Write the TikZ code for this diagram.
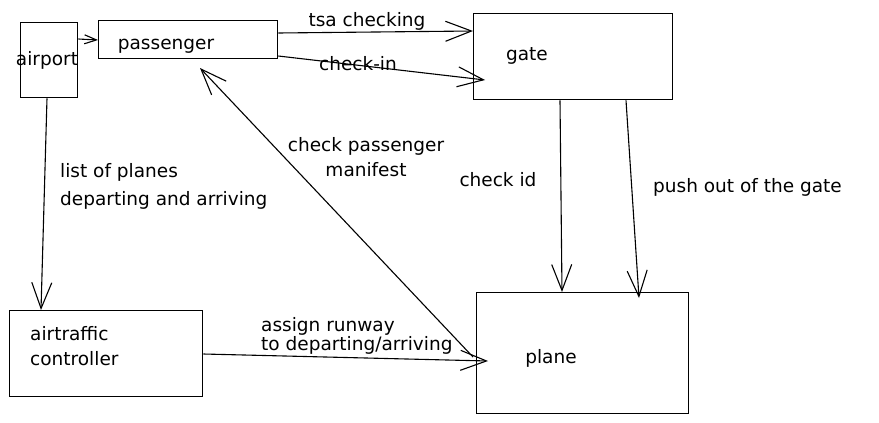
\documentclass[tikz,border=0pt]{standalone}
\usepackage{fontspec}
\setmainfont{DejaVu Sans}
\usetikzlibrary{arrows.meta}
\tikzset{
  box/.style={draw, line width=1.3pt, inner sep=0pt, anchor=north west},
  txt/.style={inner sep=0pt, font=\fontsize{18.5}{26}\selectfont},
  arr/.style={line width=1.1pt, -{Straight Barb[length=26pt,width=20pt,line width=1.1pt]}},
  sarr/.style={line width=1.1pt, -{Straight Barb[length=12pt,width=9pt,line width=1.1pt]}},
}
\begin{document}
\begin{tikzpicture}[x=1pt,y=-1pt]
\useasboundingbox (0,0) rectangle (879,423);
% boxes
\node[box, minimum width=57pt, minimum height=75pt] (airport) at (20,22) {};
\node[box, minimum width=179pt, minimum height=38pt] (passenger) at (98,20) {};
\node[box, minimum width=199pt, minimum height=86pt] (gate) at (473,13) {};
\node[box, minimum width=193pt, minimum height=86pt] (atc) at (9,310) {};
\node[box, minimum width=212pt, minimum height=121pt] (plane) at (476,292) {};
% box texts
\node[txt] (tairport) at (47,60) {airport};
\node[txt] (tpassenger) at (166,46) {passenger};
\node[txt] (tgate) at (527,56) {gate};
\node[txt, anchor=west, align=left, font=\fontsize{18.5}{25}\selectfont] (tatc) at (30,346) {airtraffic\\controller};
\node[txt] (tplane) at (551,358) {plane};
% connectors
\draw[sarr] (airport.east |- 0,39) -- (passenger.west |- 0,40);
\draw[arr] (passenger.east |- 0,33) -- (gate.west |- 0,31);
\draw[arr] (passenger.east |- 0,56) -- ([xshift=12pt]gate.west |- 0,80);
\draw[arr] (airport.south -| 47,0) -- (atc.north -| 41,0);
\draw[arr] (atc.east |- 0,354) -- ([xshift=12pt]plane.west |- 0,361);
\coordinate (pin) at (200,68);
\draw[arr] ([xshift=-3pt]plane.west |- 0,357) -- (pin);
\draw[arr] (gate.south -| 560,0) -- (plane.north -| 562,0);
\draw[arr] (gate.south -| 626,0) -- ([yshift=-6pt]plane.north -| 639,0);
% labels
\node[txt] (ltsa) at (367,21) {tsa checking};
\node[txt] (lcheckin) at (358,64) {check-in};
\node[txt, anchor=west, align=left, font=\fontsize{18.5}{28}\selectfont] (llist) at (60,186) {list of planes\\departing and arriving};
\node[txt, align=center, font=\fontsize{18.5}{25}\selectfont] (lmanifest) at (366,157) {check passenger\\manifest};
\node[txt] (lcheckid) at (498,180) {check id};
\node[txt, anchor=west] (lpush) at (653,187) {push out of the gate};
\node[txt, anchor=west, align=left, font=\fontsize{18.5}{19}\selectfont] (lassign) at (261,336) {assign runway\\to departing/arriving};
\end{tikzpicture}
\end{document}
